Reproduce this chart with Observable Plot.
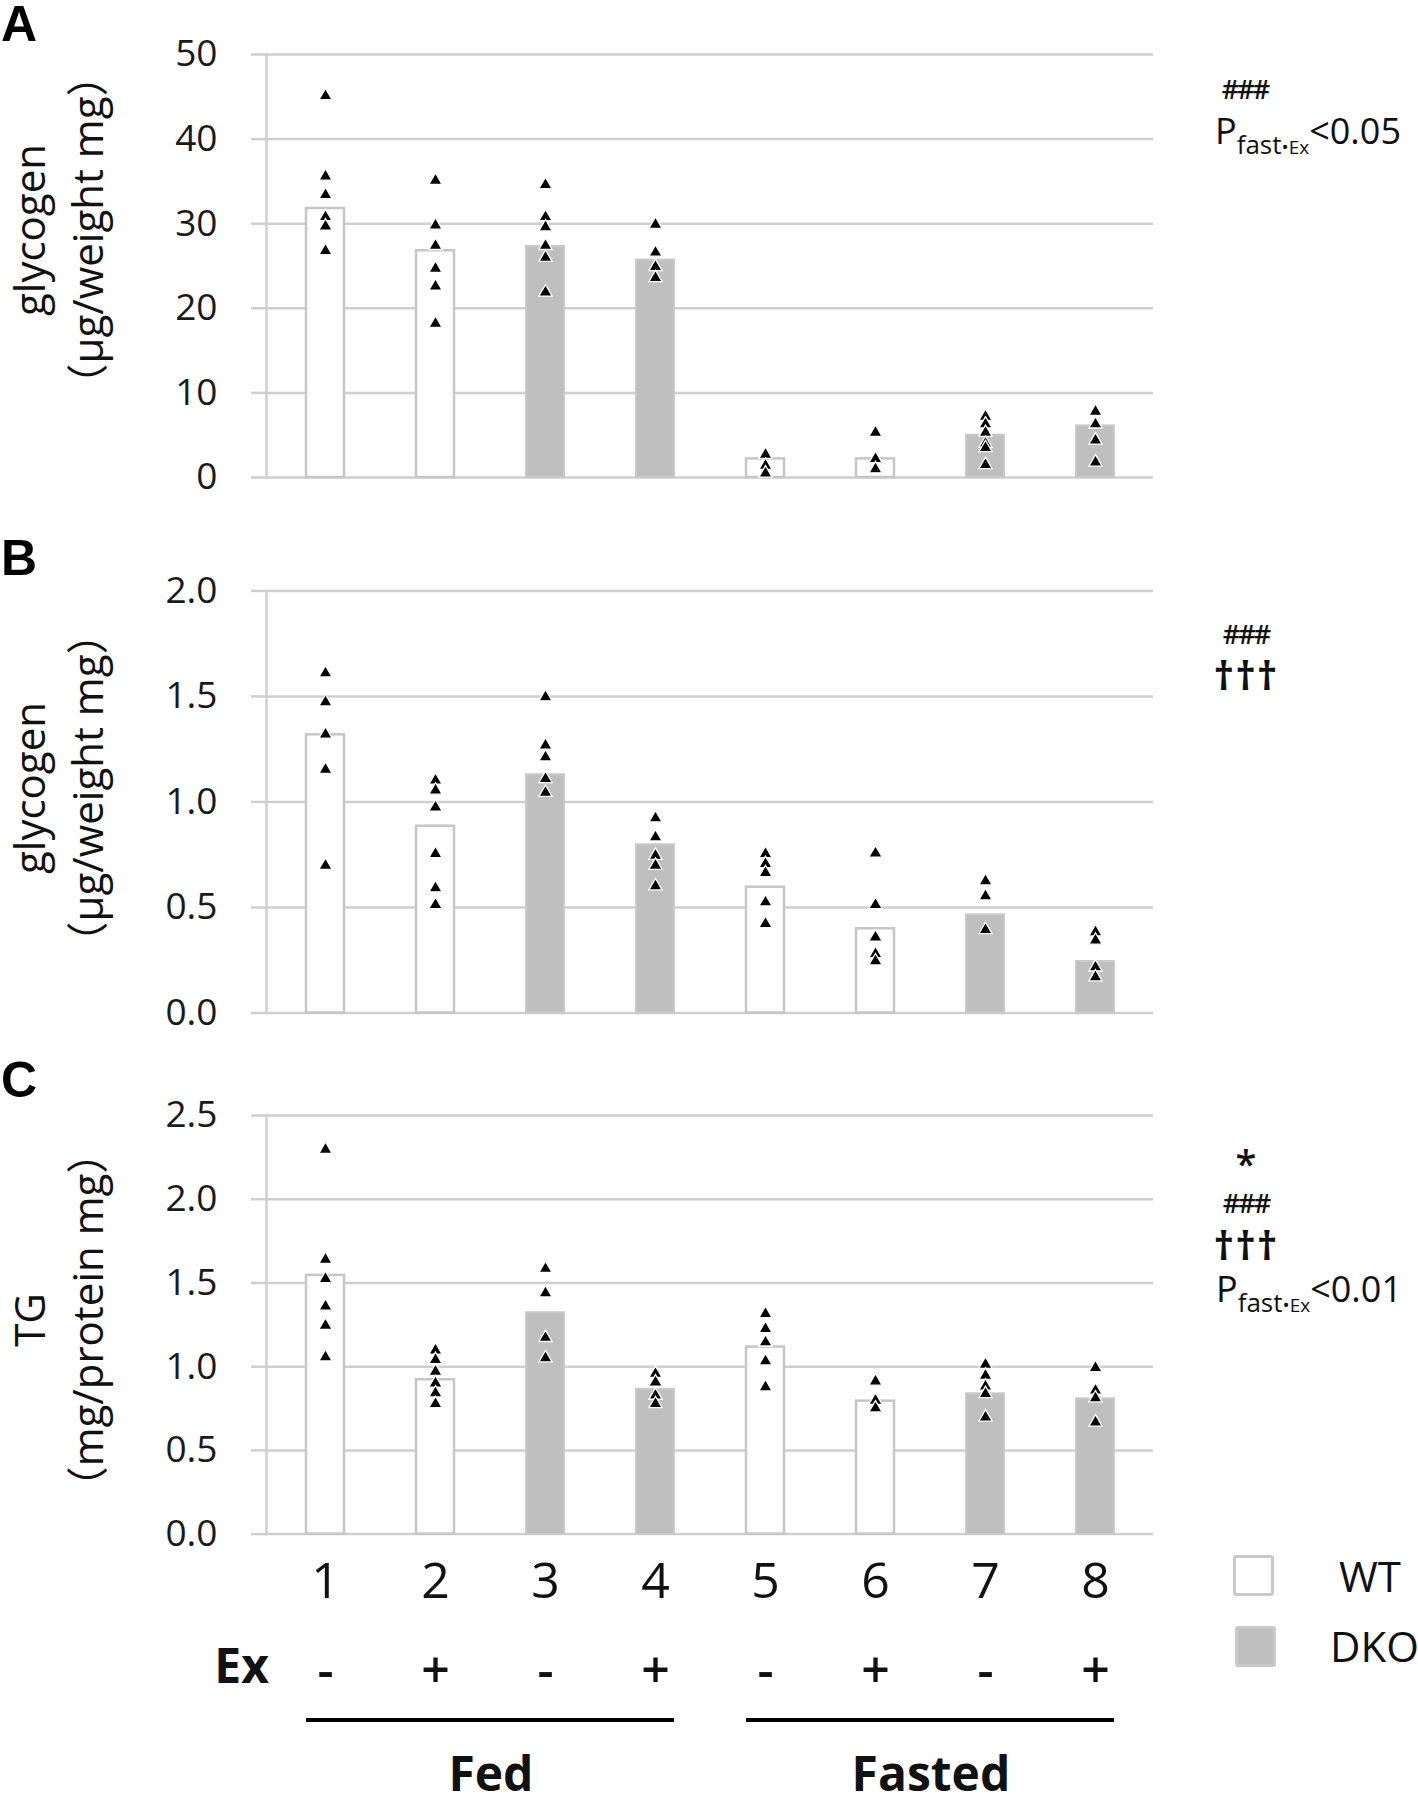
<!DOCTYPE html>
<html><head><meta charset="utf-8">
<script src="https://cdn.jsdelivr.net/npm/d3@7"></script>
<script src="https://cdn.jsdelivr.net/npm/@observablehq/plot@0.6"></script>
<style>
body{margin:0;background:#fff;}
#root{position:relative;width:1418px;height:1798px;overflow:hidden;background:#fff;font-family:"Open Sans","Noto Sans CJK JP",sans-serif;color:#111;}
.abs{position:absolute;white-space:nowrap;line-height:1;}
.plot{position:absolute;left:0;}
</style></head><body><div id="root"></div>
<script>
// ---------- data ----------
const groups = ["1","2","3","4","5","6","7","8"];
const genotype = ["WT","WT","DKO","DKO","WT","WT","DKO","DKO"];
const exercise = ["-","+","-","+","-","+","-","+"];
const sections = [{label:"Fed", from:"1", to:"4", mid:"2"}, {label:"Fasted", from:"5", to:"8", mid:"6"}];

// Panel A: glycogen (µg/weight mg)
const barsA = [31.8, 26.8, 27.3, 25.7, 2.2, 2.2, 5.0, 6.1];
const pointsA = [
  [45.1, 35.6, 33.4, 30.8, 29.7, 26.8],
  [35.1, 29.8, 27.4, 24.7, 22.6, 18.2],
  [34.6, 30.8, 29.6, 27.4, 26.0, 21.9],
  [29.9, 26.6, 24.9, 23.6],
  [2.7, 1.4, 0.5],
  [5.3, 2.2, 1.0],
  [7.2, 6.3, 5.3, 4.0, 3.5, 1.5],
  [7.8, 6.3, 4.4, 1.8]
];
const ticksA = [0, 10, 20, 30, 40, 50];

// Panel B: glycogen (µg/weight mg)
const barsB = [1.318, 0.885, 1.129, 0.797, 0.596, 0.399, 0.465, 0.244];
const pointsB = [
  [1.61, 1.473, 1.32, 1.153, 0.699],
  [1.102, 1.055, 0.975, 0.754, 0.592, 0.513],
  [1.497, 1.268, 1.212, 1.11, 1.044],
  [0.923, 0.833, 0.746, 0.699, 0.601],
  [0.754, 0.707, 0.664, 0.525, 0.423],
  [0.757, 0.513, 0.359, 0.28, 0.246],
  [0.625, 0.554, 0.394],
  [0.383, 0.344, 0.217, 0.17]
];
const ticksB = [0, 0.5, 1.0, 1.5, 2.0];

// Panel C: TG (mg/protein mg)
const barsC = [1.545, 0.922, 1.322, 0.864, 1.117, 0.794, 0.838, 0.808];
const pointsC = [
  [2.296, 1.639, 1.525, 1.36, 1.246, 1.057],
  [1.097, 1.041, 0.971, 0.901, 0.842, 0.778],
  [1.585, 1.439, 1.173, 1.051],
  [0.958, 0.907, 0.828, 0.778],
  [1.316, 1.226, 1.146, 1.033, 0.878],
  [0.912, 0.798, 0.752],
  [1.013, 0.947, 0.882, 0.838, 0.698],
  [0.993, 0.858, 0.812, 0.668]
];
const ticksC = [0, 0.5, 1.0, 1.5, 2.0, 2.5];

// ---------- layout ----------
const W = 1418, ML = 266, MR = 265;
const PAD_IN = 0.657, PAD_OUT = 0.33;
const STEP = (W - ML - MR) / (groups.length - PAD_IN + 2 * PAD_OUT);
const GRID = "#cfcfcf";
const root = document.getElementById("root");

function panel({top, height, mt, mb, domain, ticks, fmt, bars, points, bottom}) {
  const barData = groups.map((g, i) => ({g, v: bars[i], geno: genotype[i]}));
  const ptData = points.flatMap((arr, i) => arr.map(v => ({g: groups[i], v})));
  const marks = [
    Plot.gridY(ticks, {stroke: GRID, strokeOpacity: 1, strokeWidth: 2.5}),
    Plot.axisY(ticks, {tickSize: 15, tickPadding: 34, stroke: GRID, strokeWidth: 2.5, strokeOpacity: 1,
      fill: "#1a1a1a", fontSize: 37, tickFormat: fmt, label: null}),
    Plot.frame({anchor: "left", stroke: GRID, strokeWidth: 2.5}),
    Plot.barY(barData.filter(d => d.geno === "WT"), {x: "g", y: "v", fill: "#ffffff", stroke: "#c6c6c6", strokeWidth: 2.5}),
    Plot.barY(barData.filter(d => d.geno === "DKO"), {x: "g", y: "v", fill: "#bfbfbf", stroke: "#c9c9c9", strokeWidth: 2}),
    Plot.dot(ptData, {x: "g", y: "v", symbol: "triangle", r: 4.9, fill: "#000", stroke: "#fff", strokeWidth: 1.3})
  ];
  if (bottom) {
    marks.push(
      Plot.axisX({tickSize: 0, tickPadding: 28, fontSize: 50, fill: "#111", label: null}),
      Plot.text(groups, {x: d => d, text: (d, i) => exercise[i], frameAnchor: "bottom", dy: 154, fontSize: 50, fontWeight: 600, fill: "#111"}),
      Plot.ruleY(sections, {y: () => 0, x1: "from", x2: "to", dy: 186, stroke: "#000", strokeWidth: 4}),
      Plot.text(sections, {x: "mid", text: "label", frameAnchor: "bottom", dx: STEP / 2, dy: 257, fontSize: 48, fontWeight: "bold", fill: "#111"})
    );
  }
  const svg = Plot.plot({
    width: W, height,
    marginLeft: ML, marginRight: MR, marginTop: mt, marginBottom: mb,
    style: {fontFamily: "'Open Sans', sans-serif", background: "transparent", overflow: "visible"},
    x: {domain: groups, paddingInner: PAD_IN, paddingOuter: PAD_OUT, axis: bottom ? undefined : null},
    y: {domain},
    marks
  });
  svg.classList.add("plot");
  svg.style.top = top + "px";
  root.appendChild(svg);
}

panel({top: 0, height: 500, mt: 54, mb: 23, domain: [0, 50], ticks: ticksA, fmt: d3.format("d"), bars: barsA, points: pointsA});
panel({top: 530, height: 500, mt: 60.4, mb: 17.5, domain: [0, 2], ticks: ticksB, fmt: d3.format(".1f"), bars: barsB, points: pointsB});
panel({top: 1050, height: 748, mt: 65, mb: 264.4, domain: [0, 2.5], ticks: ticksC, fmt: d3.format(".1f"), bars: barsC, points: pointsC, bottom: true});

// ---------- text overlays ----------
function addText(html, css) {
  const d = document.createElement("div");
  d.className = "abs";
  d.innerHTML = html;
  Object.assign(d.style, css);
  root.appendChild(d);
  return d;
}
const letterCss = {fontFamily: "'Liberation Sans', Arial, sans-serif", fontWeight: "bold", fontSize: "50px", left: "1px", color: "#000"};
addText("A", {...letterCss, top: "-1px"});
addText("B", {...letterCss, top: "533px"});
addText("C", {...letterCss, top: "1055px"});

function yTitle(l1, l2, cx, cy) {
  addText(l1 + "<br>" + l2, {left: cx + "px", top: cy + "px", fontSize: "42px", lineHeight: "58px", textAlign: "center",
    transform: "translate(-50%,-50%) rotate(-90deg)", color: "#111"});
}
yTitle("glycogen", "（μg/weight mg）", 58, 230);
yTitle("glycogen", "（μg/weight mg）", 58, 788);
yTitle("TG", "（mg/protein mg）", 58, 1320);

function centered(txt, cx, cy, size, extra = {}) {
  addText(txt, {left: cx + "px", top: cy + "px", fontSize: size + "px", transform: "translate(-50%,-50%)", color: "#111", ...extra});
}
function pLine(p, left, top) {
  addText(`P<span style="position:relative;top:10px;font-size:26px;">fast<span style="font-size:19px;">•Ex</span></span>&lt;${p}`,
    {left: left + "px", top: top + "px", fontSize: "36px", color: "#111"});
}
const hashCss = {fontWeight: "600", letterSpacing: "-2px"};
const dagCss = {fontWeight: "700", letterSpacing: "1px"};
centered("###", 1245, 88, 27, hashCss);
pLine("0.05", 1215, 113);
centered("###", 1246, 633, 27, hashCss);
centered("†††", 1246, 675, 40, dagCss);
centered("*", 1246, 1163, 38, {fontWeight: "600"});
centered("###", 1246, 1202, 27, hashCss);
centered("†††", 1246, 1245, 40, dagCss);
pLine("0.01", 1216, 1271);

// Ex label
addText("Ex", {right: (W - 269) + "px", top: "1641px", fontSize: "48px", fontWeight: "bold", color: "#111"});

// Legend
function legendBox(left, top, fill) {
  const d = document.createElement("div");
  Object.assign(d.style, {position: "absolute", left: left + "px", top: top + "px", width: "35px", height: "35px",
    border: "3px solid #c9c9c9", borderRadius: "3px", background: fill});
  root.appendChild(d);
}
legendBox(1233, 1555, "#ffffff");
legendBox(1235, 1626, "#bfbfbf");
addText("WT", {left: "1339px", top: "1555px", fontSize: "42px", color: "#111"});
addText("DKO", {left: "1330px", top: "1625px", fontSize: "42px", color: "#111"});
</script></body></html>
